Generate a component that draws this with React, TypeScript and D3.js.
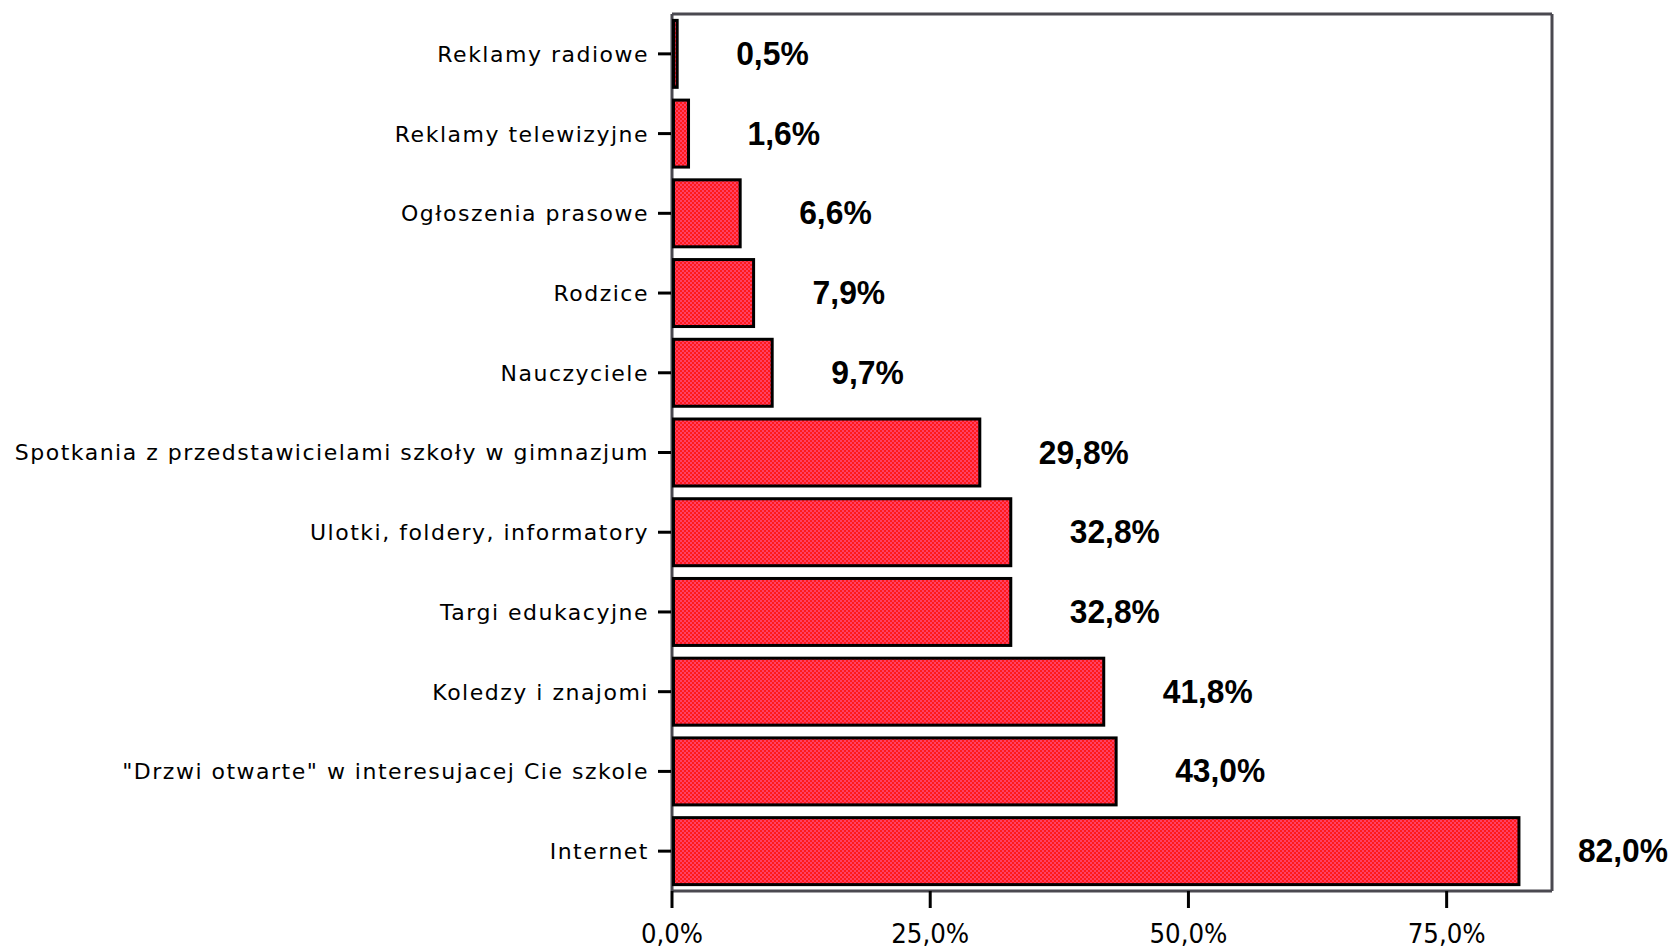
import React from "react";
import * as d3 from "d3";

const categories = [
  "Reklamy radiowe",
  "Reklamy telewizyjne",
  "Ogłoszenia prasowe",
  "Rodzice",
  "Nauczyciele",
  "Spotkania z przedstawicielami szkoły w gimnazjum",
  "Ulotki, foldery, informatory",
  "Targi edukacyjne",
  "Koledzy i znajomi",
  "\"Drzwi otwarte\" w interesujacej Cie szkole",
  "Internet",
];
const values = [0.5, 1.6, 6.6, 7.9, 9.7, 29.8, 32.8, 32.8, 41.8, 43.0, 82.0];
const valueLabels = ["0,5%", "1,6%", "6,6%", "7,9%", "9,7%", "29,8%", "32,8%", "32,8%", "41,8%", "43,0%", "82,0%"];
const xTicks = [0, 25, 50, 75];
const xTickLabels = ["0,0%", "25,0%", "50,0%", "75,0%"];

const W = 1673;
const H = 948;
const left = 672;
const right = 1552;
const top = 14;
const bottom = 891;

const digitCount = (s: string) => (s.match(/\d/g) || []).length;

export default function App() {
  const x = d3.scaleLinear().domain([0, 85.2]).range([left, right]);
  const y = d3.scaleBand<string>().domain(categories).range([top, bottom]).paddingInner(0.16).paddingOuter(0.08);
  const band = d3.scaleBand<string>().domain(categories).range([top, bottom]);

  return (
    <svg
      width={W}
      height={H}
      style={{ position: "absolute", left: 0, top: 0, background: "#fff" }}
    >
      <defs>
        <pattern id="chk" width="4" height="4" patternUnits="userSpaceOnUse">
          <rect width="4" height="4" fill="#ff1a1a" />
          <rect width="2" height="2" fill="#ff4064" />
          <rect x="2" y="2" width="2" height="2" fill="#ff4064" />
        </pattern>
      </defs>
      {/* frame */}
      <line x1={left} x2={right} y1={top} y2={top} stroke="#4a4950" strokeWidth={3} />
      <line x1={right} x2={right} y1={top} y2={bottom} stroke="#4a4950" strokeWidth={3} />
      <line x1={left} x2={right} y1={bottom} y2={bottom} stroke="#4a4950" strokeWidth={3} />
      <line x1={left} x2={left} y1={top} y2={bottom} stroke="#4a4950" strokeWidth={3} />

      {categories.map((c, i) => {
        const y0 = y(c)!;
        const bh = y.bandwidth();
        const cy = band(c)! + band.bandwidth() / 2;
        const x1 = x(values[i]);
        const lbl = valueLabels[i];
        return (
          <g key={c}>
            <rect
              x={left + 1.5}
              y={y0}
              width={Math.max(0, x1 - left - 1.5)}
              height={bh}
              fill="url(#chk)"
              stroke="#000"
              strokeWidth={3}
            />
            <line x1={658} x2={671} y1={cy} y2={cy} stroke="#000" strokeWidth={3} />
            <text
              x={649}
              y={cy}
              dy="0.36em"
              textAnchor="end"
              fontFamily="DejaVu Sans"
              fontSize={22}
              letterSpacing={1.5}
              fill="#000"
            >
              {c}
            </text>
            <text
              x={x1 + 59}
              y={cy + 11}
              textAnchor="start"
              fontFamily="Liberation Sans, Arial"
              fontWeight="bold"
              fontSize={33}
              textLength={digitCount(lbl) * 17.4 + 37.8}
              lengthAdjust="spacingAndGlyphs"
              fill="#000"
            >
              {lbl}
            </text>
          </g>
        );
      })}

      {xTicks.map((t, i) => {
        const lbl = xTickLabels[i];
        const w = digitCount(lbl) * 16 + 30;
        return (
          <g key={t}>
            <line x1={x(t)} x2={x(t)} y1={891} y2={908} stroke="#000" strokeWidth={3} />
            <text
              x={x(t) - w / 2}
              y={943}
              textAnchor="start"
              fontFamily="DejaVu Sans Condensed"
              fontSize={26}
              textLength={w}
              lengthAdjust="spacingAndGlyphs"
              fill="#000"
            >
              {lbl}
            </text>
          </g>
        );
      })}
    </svg>
  );
}
